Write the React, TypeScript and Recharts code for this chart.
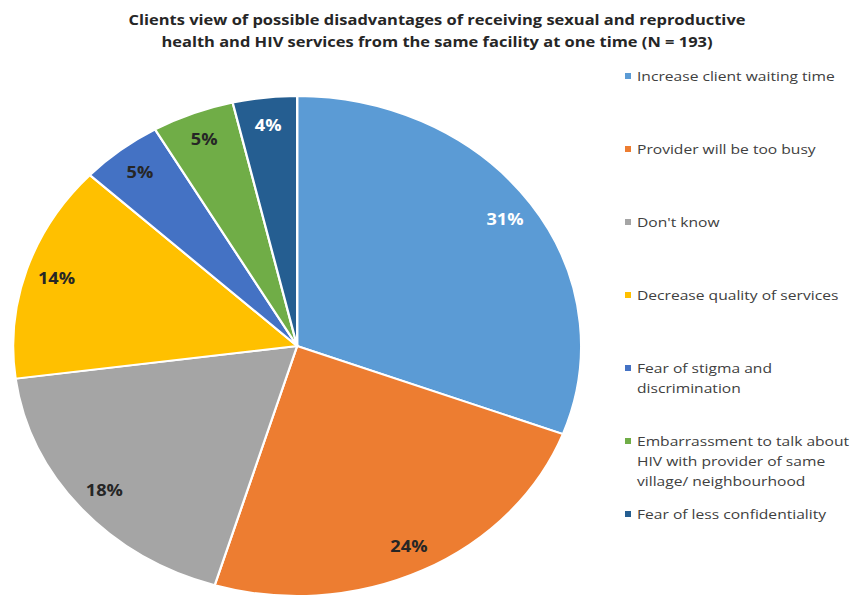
import React from 'react';
import { PieChart, Pie, Cell } from 'recharts';

const categories = [
  'Increase client waiting time',
  'Provider will be too busy',
  "Don't know",
  'Decrease quality of services',
  'Fear of stigma and discrimination',
  'Embarrassment to talk about HIV with provider of same village/ neighbourhood',
  'Fear of less confidentiality',
];
// estimated respondent counts (slice angles), labels show rounded shares
const counts = [59, 46, 35, 27, 9, 9, 7];
const colors = ['#5B9BD5', '#ED7D31', '#A5A5A5', '#FFC000', '#4472C4', '#70AD47', '#255E91'];
const labelColors = ['#FFFFFF', '#262626', '#262626', '#262626', '#262626', '#262626', '#FFFFFF'];

const data = categories.map((name, i) => ({ name, value: counts[i] }));

const FONT = '"Open Sans", "Noto Sans", sans-serif';
const RAD = Math.PI / 180;

function renderLabel(props: any) {
  const { cx, cy, midAngle, outerRadius, index, percent } = props;
  const r = outerRadius * 0.89;
  const x = cx + r * Math.cos(-midAngle * RAD);
  const y = cy + r * Math.sin(-midAngle * RAD);
  return (
    <text x={x} y={y} fill={labelColors[index]} textAnchor="middle" dominantBaseline="central"
      fontSize={16} fontWeight="bold" fontFamily={FONT}>
      {Math.round(percent * 100)}%
    </text>
  );
}

export default function App() {
  return (
    <div style={{ position: 'absolute', left: 0, top: 0, width: 850, height: 601, background: '#fff', overflow: 'hidden', fontFamily: FONT }}>
      {/* the reference is stretched horizontally, so text and pie get a scaleX */}
      <div style={{ position: 'absolute', left: 437, top: 9, transform: 'translateX(-50%) scaleX(1.175)', whiteSpace: 'nowrap', textAlign: 'center', fontSize: 14, fontWeight: 'bold', color: '#262626', lineHeight: '22px' }}>
        Clients view of possible disadvantages of receiving sexual and reproductive<br />
        health and HIV services from the same facility at one time (N = 193)
      </div>

      <div style={{ position: 'absolute', left: 12, top: 95, transform: 'scaleX(1.136)', transformOrigin: '0 0' }}>
        <PieChart width={502} height={502} margin={{ top: 0, right: 0, bottom: 0, left: 0 }}>
          <Pie data={data} dataKey="value" nameKey="name" cx={251} cy={251} outerRadius={250}
            startAngle={90} endAngle={-270} stroke="#FFFFFF" strokeWidth={2}
            label={renderLabel} labelLine={false} isAnimationActive={false}>
            {data.map((d, i) => <Cell key={d.name} fill={colors[i]} />)}
          </Pie>
        </PieChart>
      </div>

      <div style={{ position: 'absolute', left: 625, top: 66, transform: 'scaleX(1.2)', transformOrigin: '0 0' }}>
        {data.map((d, i) => (
          <div key={d.name} style={{ height: 73, display: 'flex', alignItems: 'flex-start' }}>
            <span style={{ width: 5, height: 6, background: colors[i], marginTop: 7, marginRight: 5, flex: 'none' }} />
            <span style={{ width: 178, fontSize: 13, lineHeight: '20px', color: '#404040' }}>{d.name}</span>
          </div>
        ))}
      </div>
    </div>
  );
}
